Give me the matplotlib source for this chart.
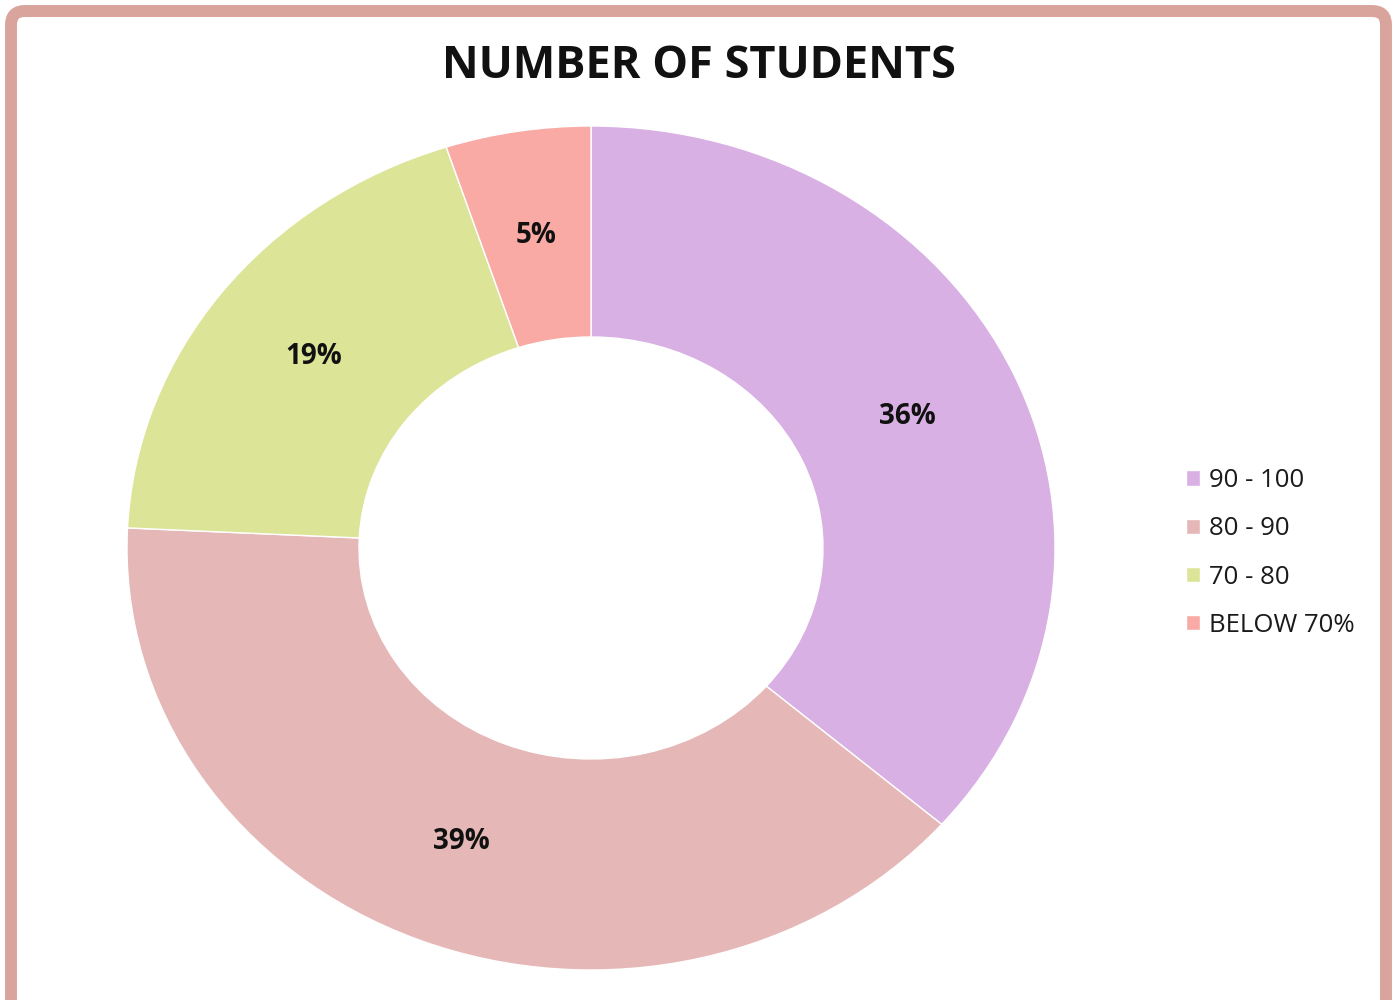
import matplotlib
matplotlib.use("Agg")
import matplotlib.pyplot as plt
from matplotlib.patches import FancyBboxPatch
from matplotlib.transforms import IdentityTransform

categories = ["90 - 100", "80 - 90", "70 - 80", "BELOW 70%"]
shares = [36, 39, 19, 5]
colors = ["#D8B0E4", "#E5B8B7", "#DCE498", "#F9AAA5"]

plt.rcParams["font.family"] = ["Open Sans", "DejaVu Sans"]

fig = plt.figure(figsize=(13.95, 10), dpi=100)

# donut, stretched a bit wider than tall like the source image
ax = fig.add_axes([127 / 1395, 30 / 1000, 928 / 1395, 844 / 1000])
wedges, _, pcts = ax.pie(
    shares, colors=colors, startangle=90, counterclock=False,
    autopct="%.0f%%", pctdistance=0.75,
    wedgeprops=dict(width=0.5, edgecolor="white", linewidth=1),
    textprops=dict(fontsize=20, fontweight="bold", color="#111111"),
)
ax.set_aspect("auto")
ax.set_xlim(-1, 1)
ax.set_ylim(-1, 1)

fig.text(699 / 1395, 1 - 66 / 1000, "NUMBER OF STUDENTS", ha="center", va="center",
         fontsize=32.5, fontweight="bold", color="#111111")

fig.legend(wedges, categories, loc="center left", bbox_to_anchor=(1163 / 1395, 1 - 553 / 1000),
           frameon=False, fontsize=18.5, handlelength=0.55, handleheight=0.55,
           handletextpad=0.35, labelspacing=0.9, labelcolor="#1a1a1a")

# rounded frame around the chart (runs off the bottom edge)
border = FancyBboxPatch((11, -20), 1375, 1009, boxstyle="round,pad=0,rounding_size=14",
                        transform=IdentityTransform(), facecolor="none",
                        edgecolor="#D9A49C", linewidth=8.6)
fig.add_artist(border)

fig.savefig("out.png", dpi=100, facecolor="white")
